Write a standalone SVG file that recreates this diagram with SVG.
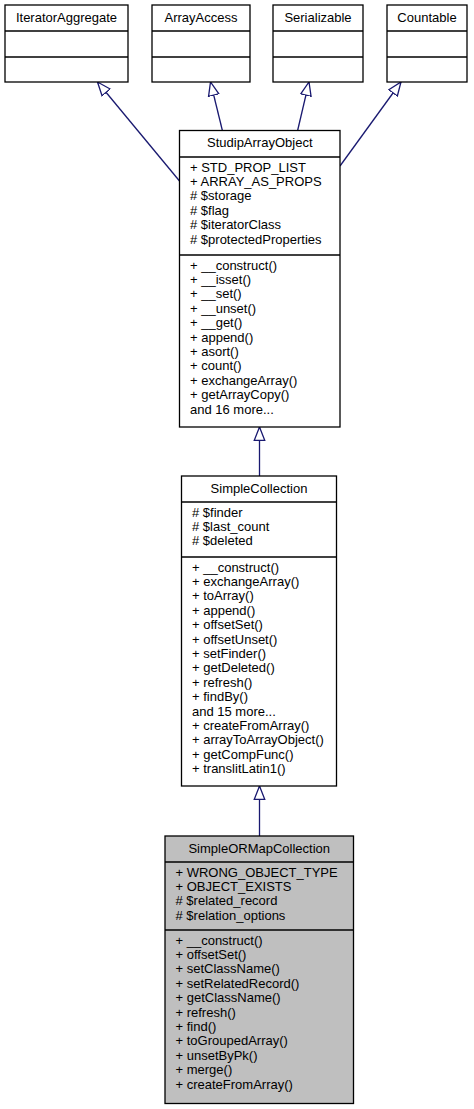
<svg xmlns="http://www.w3.org/2000/svg" width="474" height="1109" viewBox="0 0 474 1109">
<defs>
<style>
.box{fill:#ffffff;stroke:#000000;stroke-width:1.3}
.gray{fill:#bfbfbf}
.div{stroke:#000000;stroke-width:1.3}
text{font-family:"Liberation Sans",Arial,Helvetica,sans-serif;font-size:13px;fill:#000000}
.t{text-anchor:middle}
.edge{stroke:#191970;stroke-width:1.3;fill:none;marker-end:url(#tri)}
</style>
<marker id="tri" markerUnits="userSpaceOnUse" markerWidth="16" markerHeight="14" refX="14" refY="6" orient="auto" viewBox="0 0 16 12">
<path d="M0.5,0.7 L14,6 L0.5,11.3 Z" fill="#ffffff" stroke="#191970" stroke-width="1.3"/>
</marker>
</defs>
<rect width="474" height="1109" fill="#ffffff"/>
<g id="connectors">
<line class="edge" x1="179.5" y1="181" x2="97.5" y2="82"/>
<line class="edge" x1="222.5" y1="131" x2="210.5" y2="82"/>
<line class="edge" x1="297.5" y1="131" x2="309" y2="82"/>
<line class="edge" x1="340" y1="166" x2="401" y2="82"/>
<line class="edge" x1="259.5" y1="476" x2="259.5" y2="427"/>
<line class="edge" x1="259.5" y1="836" x2="259.5" y2="786"/>
</g>
<g id="IteratorAggregate">
<rect class="box" x="5" y="5" width="123" height="77"/>
<line class="div" x1="5" y1="31" x2="128" y2="31"/>
<line class="div" x1="5" y1="57" x2="128" y2="57"/>
<text class="t" x="66.5" y="22">IteratorAggregate</text>
</g>
<g id="ArrayAccess">
<rect class="box" x="152" y="5" width="98" height="77"/>
<line class="div" x1="152" y1="31" x2="250" y2="31"/>
<line class="div" x1="152" y1="57" x2="250" y2="57"/>
<text class="t" x="201" y="22">ArrayAccess</text>
</g>
<g id="Serializable">
<rect class="box" x="273" y="5" width="90" height="77"/>
<line class="div" x1="273" y1="31" x2="363" y2="31"/>
<line class="div" x1="273" y1="57" x2="363" y2="57"/>
<text class="t" x="318" y="22">Serializable</text>
</g>
<g id="Countable">
<rect class="box" x="387" y="5" width="80" height="77"/>
<line class="div" x1="387" y1="31" x2="467" y2="31"/>
<line class="div" x1="387" y1="57" x2="467" y2="57"/>
<text class="t" x="427" y="22">Countable</text>
</g>
<g id="StudipArrayObject">
<rect class="box" x="179.5" y="130.5" width="160.5" height="296.5"/>
<line class="div" x1="179.5" y1="157" x2="340" y2="157"/>
<line class="div" x1="179.5" y1="255" x2="340" y2="255"/>
<text class="t" x="259.75" y="147">StudipArrayObject</text>
<text x="190" y="171.5">+ STD_PROP_LIST</text>
<text x="190" y="185.9">+ ARRAY_AS_PROPS</text>
<text x="190" y="200.3"># $storage</text>
<text x="190" y="214.7"># $flag</text>
<text x="190" y="229.1"># $iteratorClass</text>
<text x="190" y="243.5"># $protectedProperties</text>
<text x="190" y="269.5">+ __construct()</text>
<text x="190" y="283.9">+ __isset()</text>
<text x="190" y="298.3">+ __set()</text>
<text x="190" y="312.7">+ __unset()</text>
<text x="190" y="327.1">+ __get()</text>
<text x="190" y="341.5">+ append()</text>
<text x="190" y="355.9">+ asort()</text>
<text x="190" y="370.3">+ count()</text>
<text x="190" y="384.7">+ exchangeArray()</text>
<text x="190" y="399.1">+ getArrayCopy()</text>
<text x="190" y="413.5">and 16 more...</text>
</g>
<g id="SimpleCollection">
<rect class="box" x="181.5" y="476" width="155" height="310"/>
<line class="div" x1="181.5" y1="502" x2="336.5" y2="502"/>
<line class="div" x1="181.5" y1="557" x2="336.5" y2="557"/>
<text class="t" x="259" y="492.5">SimpleCollection</text>
<text x="192" y="516.5"># $finder</text>
<text x="192" y="530.9"># $last_count</text>
<text x="192" y="545.3"># $deleted</text>
<text x="192" y="571.5">+ __construct()</text>
<text x="192" y="585.9">+ exchangeArray()</text>
<text x="192" y="600.3">+ toArray()</text>
<text x="192" y="614.7">+ append()</text>
<text x="192" y="629.1">+ offsetSet()</text>
<text x="192" y="643.5">+ offsetUnset()</text>
<text x="192" y="657.9">+ setFinder()</text>
<text x="192" y="672.3">+ getDeleted()</text>
<text x="192" y="686.7">+ refresh()</text>
<text x="192" y="701.1">+ findBy()</text>
<text x="192" y="715.5">and 15 more...</text>
<text x="192" y="729.9">+ createFromArray()</text>
<text x="192" y="744.3">+ arrayToArrayObject()</text>
<text x="192" y="758.7">+ getCompFunc()</text>
<text x="192" y="773.1">+ translitLatin1()</text>
</g>
<g id="SimpleORMapCollection">
<rect class="box gray" x="165" y="836" width="188.5" height="267.5"/>
<line class="div" x1="165" y1="862" x2="353.5" y2="862"/>
<line class="div" x1="165" y1="930" x2="353.5" y2="930"/>
<text class="t" x="259.25" y="852.5">SimpleORMapCollection</text>
<text x="175.5" y="876.5">+ WRONG_OBJECT_TYPE</text>
<text x="175.5" y="890.9">+ OBJECT_EXISTS</text>
<text x="175.5" y="905.3"># $related_record</text>
<text x="175.5" y="919.7"># $relation_options</text>
<text x="175.5" y="944.5">+ __construct()</text>
<text x="175.5" y="958.9">+ offsetSet()</text>
<text x="175.5" y="973.3">+ setClassName()</text>
<text x="175.5" y="987.7">+ setRelatedRecord()</text>
<text x="175.5" y="1002.1">+ getClassName()</text>
<text x="175.5" y="1016.5">+ refresh()</text>
<text x="175.5" y="1030.9">+ find()</text>
<text x="175.5" y="1045.3">+ toGroupedArray()</text>
<text x="175.5" y="1059.7">+ unsetByPk()</text>
<text x="175.5" y="1074.1">+ merge()</text>
<text x="175.5" y="1088.5">+ createFromArray()</text>
</g>
</svg>
